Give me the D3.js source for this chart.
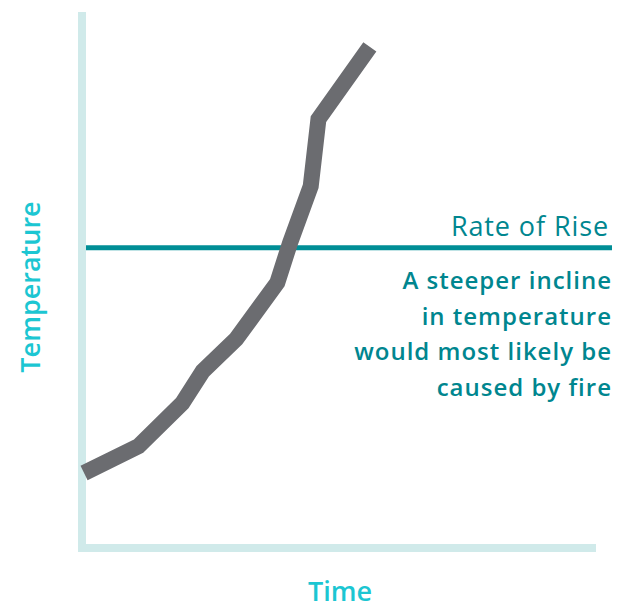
<!DOCTYPE html>
<html>
<head>
<meta charset="utf-8">
<script src="https://cdn.jsdelivr.net/npm/d3@7"></script>
<style>
  body { margin: 0; background: #fff; }
  svg { display: block; font-family: "Open Sans", sans-serif; }
</style>
</head>
<body>
<div id="chart"></div>
<script>
// values (arbitrary units 0-100)
var time = [0.4, 11, 19.5, 23.5, 30, 38, 40.5, 44.5, 46, 56]
var temperature = [14, 19, 27, 33, 39, 49.5, 57, 67.5, 80, 93.5]
var rateOfRise = 56
var noteLines = ["A steeper incline", "in temperature", "would most likely be", "caused by fire"]

var svg = d3.select("#chart")
    .append("svg")
    .attr("width", 627)
    .attr("height", 606)

var x = d3.scaleLinear()
    .domain([0, 100])
    .range([82, 596])

var y = d3.scaleLinear()
    .domain([0, 100])
    .range([548, 12])

// axes (plain bars, no ticks)
svg.append("line")
    .attr("x1", x(0)).attr("x2", x(0))
    .attr("y1", y(100)).attr("y2", y(0) + 4)
    .attr("stroke", "#d0eaea")
    .attr("stroke-width", 8)

svg.append("line")
    .attr("x1", x(0) - 4).attr("x2", x(100))
    .attr("y1", y(0)).attr("y2", y(0))
    .attr("stroke", "#d0eaea")
    .attr("stroke-width", 8)

// rate of rise line
svg.append("line")
    .attr("x1", x(0) + 4).attr("x2", 612)
    .attr("y1", y(rateOfRise)).attr("y2", y(rateOfRise))
    .attr("stroke", "#008e96")
    .attr("stroke-width", 5)

var line = d3.line()
    .x((d, i) => x(time[i]))
    .y(d => y(d))

svg.append("path")
    .datum(temperature)
    .attr("d", line)
    .attr("fill", "none")
    .attr("stroke", "#6b6c70")
    .attr("stroke-width", 16)
    .attr("stroke-linejoin", "miter")
    .attr("stroke-linecap", "butt")

svg.append("text")
    .attr("x", 609)
    .attr("y", y(rateOfRise) - 12)
    .attr("text-anchor", "end")
    .attr("font-size", 27)
    .attr("font-weight", 500)
    .attr("letter-spacing", 0.9)
    .attr("fill", "#00868f")
    .text("Rate of Rise")

svg.selectAll(".note")
    .data(noteLines)
    .enter()
    .append("text")
    .attr("class", "note")
    .attr("x", 612)
    .attr("y", (d, i) => 289 + i * 35.5)
    .attr("text-anchor", "end")
    .attr("font-size", 24)
    .attr("font-weight", 600)
    .attr("letter-spacing", 1)
    .attr("fill", "#00868f")
    .text(d => d)

svg.append("text")
    .attr("x", 340)
    .attr("y", 601)
    .attr("text-anchor", "middle")
    .attr("font-size", 27)
    .attr("font-weight", 600)
    .attr("fill", "#1cc6d2")
    .text("Time")

svg.append("text")
    .attr("transform", "translate(40,287) rotate(-90)")
    .attr("text-anchor", "middle")
    .attr("font-size", 27)
    .attr("font-weight", 600)
    .attr("fill", "#1cc6d2")
    .text("Temperature")
</script>
</body>
</html>
